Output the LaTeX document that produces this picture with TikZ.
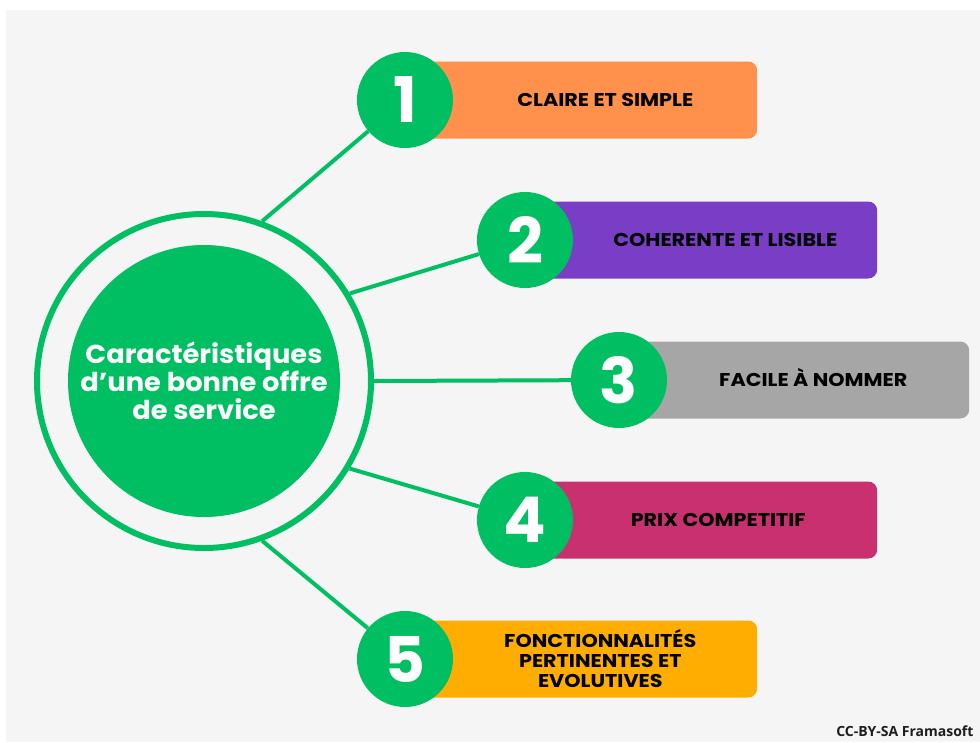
\documentclass[tikz,border=0pt]{standalone}
\usepackage{fontspec}
\setmainfont{Poppins}
\newfontfamily\labelfont{Poppins}[FakeStretch=1.12]
\newfontfamily\hubfont{Poppins}[FakeStretch=1.05]
\newfontfamily\footfont{Open Sans}
\usetikzlibrary{positioning,calc}
\definecolor{pagebg}{HTML}{F5F5F5}
\definecolor{hubgreen}{HTML}{00BF63}
\definecolor{orangebar}{HTML}{FF914D}
\definecolor{purplebar}{HTML}{7A3DC6}
\definecolor{greybar}{HTML}{A6A6A6}
\definecolor{crimsonbar}{HTML}{C9306F}
\definecolor{amberbar}{HTML}{FFAD00}
\definecolor{footgrey}{HTML}{1E1E1E}

\begin{document}
\begin{tikzpicture}[
    x=1pt, y=-1pt,
    hub/.style={
        circle,
        fill=hubgreen,
        minimum size=272pt,
        inner sep=0pt,
        align=center,
        text=white,
        font=\hubfont\bfseries\fontsize{26}{28}\selectfont,
    },
    ring/.style={
        circle,
        draw=hubgreen,
        line width=6pt,
        minimum size=334pt,
        inner sep=0pt,
    },
    num/.style={
        circle,
        fill=hubgreen,
        minimum size=96pt,
        inner sep=0pt,
        text=white,
        font=\bfseries\fontsize{63}{63}\selectfont,
    },
    bar/.style={
        fill=#1,
        rounded corners=9pt,
        minimum width=352pt,
        minimum height=77pt,
        inner sep=0pt,
        anchor=west,
    },
    barlabel/.style={
        align=center,
        text=black,
        font=\labelfont\bfseries\fontsize{18.5}{20}\selectfont,
    },
    spoke/.style={draw=hubgreen,line width=4pt},
]

% Page
\useasboundingbox[fill=white] (0,0) rectangle (980,742);
\fill[pagebg] (6,10) rectangle (980,742);

% Hub
\node[ring] (ring) at (204,381) {};
\node[hub] (hub) at (204,381) {Caractéristiques\\d’une bonne offre\\de service};

% Item 1
\node[bar=orangebar] (bar1) at (405,100) {};
\node[num] (n1) at (405,100) {1};
\node[barlabel] (lab1) at ($(n1.east)!0.5!(bar1.east)$) {CLAIRE ET SIMPLE};

% Item 2
\node[bar=purplebar] (bar2) at (525,240) {};
\node[num] (n2) at (525,240) {2};
\node[barlabel] (lab2) at ($(n2.east)!0.5!(bar2.east)$) {COHERENTE ET LISIBLE};

% Item 3
\node[bar=greybar,minimum width=350pt] (bar3) at (619,380) {};
\node[num] (n3) at (619,380) {3};
\node[barlabel] (lab3) at ($(n3.east)!0.5!(bar3.east)+(-5,-2)$) {FACILE À NOMMER};

% Item 4
\node[bar=crimsonbar] (bar4) at (525,520) {};
\node[num] (n4) at (525,520) {4};
\node[barlabel] (lab4) at ($(n4.east)!0.5!(bar4.east)+(-7,0)$) {PRIX COMPETITIF};

% Item 5
\node[bar=amberbar] (bar5) at (405,659) {};
\node[num] (n5) at (405,659) {5};
\node[barlabel] (lab5) at ($(n5.east)!0.5!(bar5.east)+(-5,0)$) {FONCTIONNALITÉS\\PERTINENTES ET\\EVOLUTIVES};

% Spokes
\draw[spoke] (ring.70) -- (n1);
\draw[spoke] (ring.31) -- (n2);
\draw[spoke] (ring.0) -- (n3);
\draw[spoke] (ring.-31) -- (n4);
\draw[spoke] (ring.-70) -- (n5);

% Credit
\node[anchor=base east,text=footgrey,font=\footfont\bfseries\fontsize{14}{16}\selectfont] (credit) at (977,736) {CC-BY-SA Framasoft};

\end{tikzpicture}
\end{document}
